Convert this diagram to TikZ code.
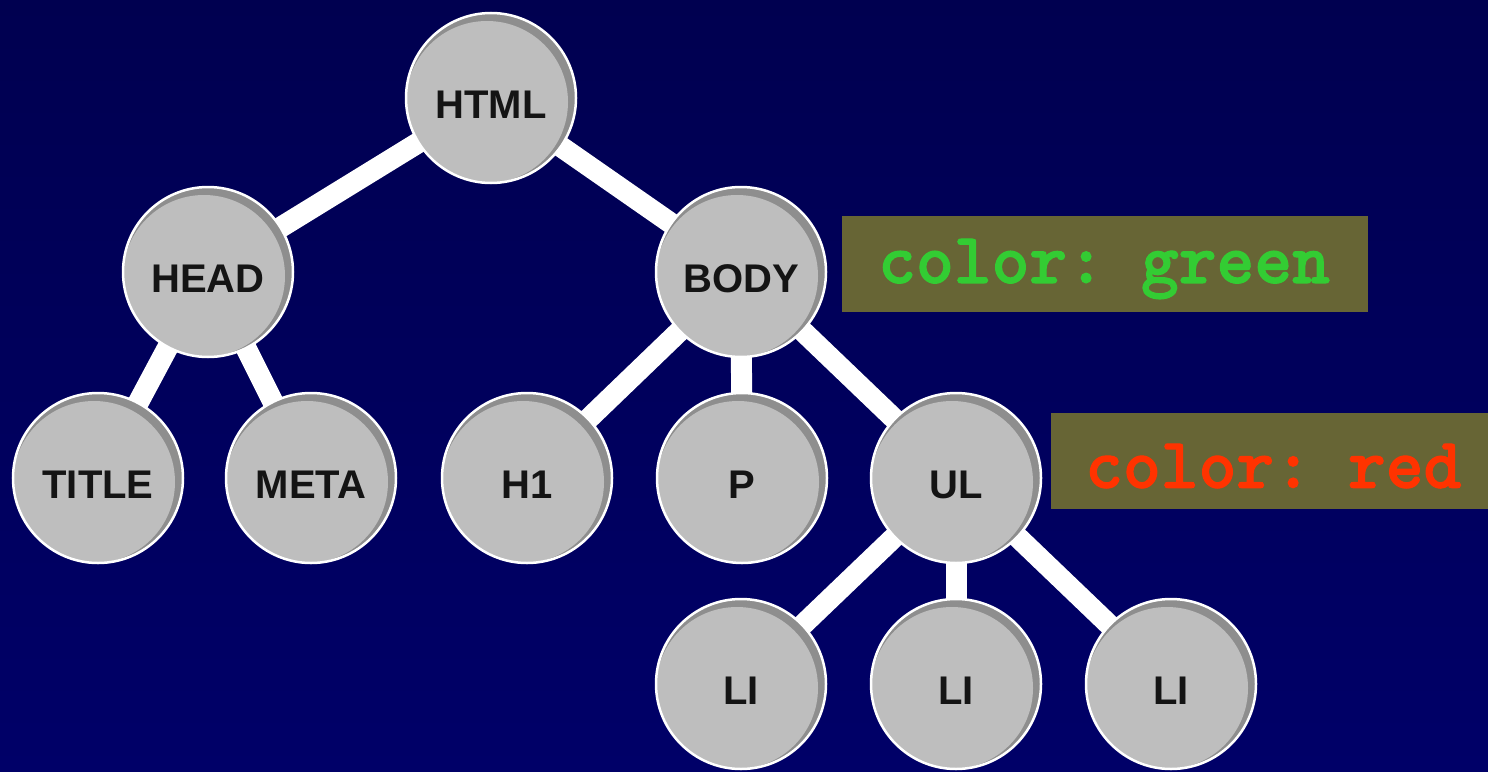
\documentclass[tikz,border=0pt]{standalone}
\usepackage{fontspec}
\setmainfont{Liberation Sans}
\newfontfamily\courfam[FakeBold=1.5]{lmmonolt10-bold.otf}
\pgfdeclarelayer{bg}
\pgfdeclarelayer{edges}
\pgfsetlayers{bg,edges,main}
\definecolor{bgtop}{HTML}{000050}
\definecolor{bgbot}{HTML}{000068}
\definecolor{balllight}{HTML}{BEBEBE}
\definecolor{balldark}{HTML}{8E8E8E}
\definecolor{olivebox}{HTML}{676535}
\definecolor{labgreen}{HTML}{33CC33}
\definecolor{labred}{HTML}{FF3300}
\definecolor{balltext}{HTML}{141414}
\newcommand{\balltxt}[1]{\raisebox{-20pt}[0pt][0pt]{#1}}
\newcommand{\boxtxt}[1]{\raisebox{-5pt}[\height][\depth]{#1}}
\tikzset{
  ball/.style={circle, minimum size=170pt, inner sep=0pt, draw=white, line width=2.5pt,
    fill=balldark, text=balltext, font=\fontsize{40}{40}\selectfont\bfseries,
    path picture={\fill[balllight] ([xshift=-4pt,yshift=-4pt]path picture bounding box.center) circle (81pt);}},
  edge/.style={draw=white, line width=21pt},
  cssbox/.style={anchor=west, fill=olivebox, minimum height=96pt, inner ysep=0pt, align=left,
    font=\fontsize{72}{72}\selectfont\courfam}
}
\begin{document}
\begin{tikzpicture}[x=1pt,y=-1pt]
\useasboundingbox (0,0) rectangle (1488,771);
\begin{pgfonlayer}{bg}
\shade[top color=bgtop, bottom color=bgbot] (0,0) rectangle (1488,771);
\end{pgfonlayer}
\node[ball] (html) at (491,98) {\balltxt{HTML}};
\node[ball] (head) at (208,272) {\balltxt{HEAD}};
\node[ball] (body) at (741,272) {\balltxt{BODY}};
\node[ball] (title) at (98,478) {\balltxt{TITLE}};
\node[ball] (meta) at (311,478) {\balltxt{META}};
\node[ball] (h1) at (527,478) {\balltxt{H1}};
\node[ball] (p) at (742,478) {\balltxt{P}};
\node[ball] (ul) at (956,478) {\balltxt{UL}};
\node[ball] (li1) at (741,684) {\balltxt{LI}};
\node[ball] (li2) at (956,684) {\balltxt{LI}};
\node[ball] (li3) at (1171,684) {\balltxt{LI}};
\begin{pgfonlayer}{edges}
\draw[edge] (html.center) -- (head.center);
\draw[edge] (html.center) -- (body.center);
\draw[edge] (head.center) -- (title.center);
\draw[edge] (head.center) -- (meta.center);
\draw[edge] (body.center) -- (h1.center);
\draw[edge] (body.center) -- (p.center);
\draw[edge] (body.center) -- (ul.center);
\draw[edge] (ul.center) -- (li1.center);
\draw[edge] (ul.center) -- (li2.center);
\draw[edge] (ul.center) -- (li3.center);
\end{pgfonlayer}
\node[cssbox, text=labgreen, inner xsep=36pt, text width=454pt] (green) at (842,264) {\boxtxt{color: green}};
\node[cssbox, text=labred, inner xsep=34pt, text width=420pt] (red) at (1051,461) {\boxtxt{color: red}};
\end{tikzpicture}
\end{document}
